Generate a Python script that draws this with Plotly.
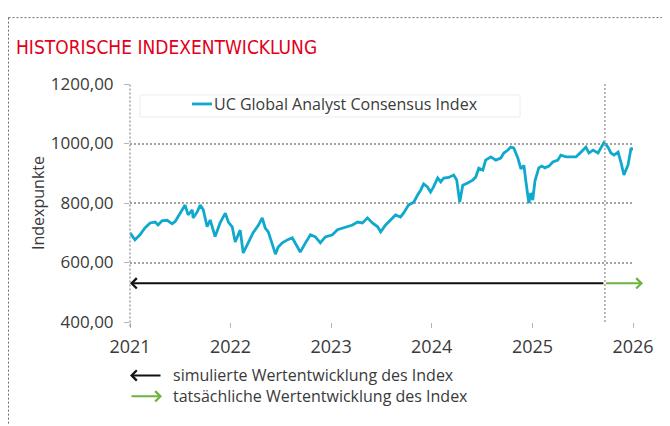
import plotly.graph_objects as go

# ---------------- data ----------------
dates = [
    "2021-01-01", "2021-01-19", "2021-02-06", "2021-02-25", "2021-03-15", "2021-04-02",
    "2021-04-13", "2021-04-27", "2021-05-16", "2021-06-03", "2021-06-14", "2021-07-02",
    "2021-07-20", "2021-07-31", "2021-08-15", "2021-08-18", "2021-09-02", "2021-09-13",
    "2021-09-24", "2021-10-08", "2021-10-19", "2021-11-06", "2021-11-24", "2021-12-13",
    "2021-12-24", "2022-01-07", "2022-01-18", "2022-02-05", "2022-02-16", "2022-03-06",
    "2022-03-24", "2022-04-12", "2022-04-26", "2022-05-07", "2022-05-18", "2022-06-02",
    "2022-06-13", "2022-06-23", "2022-07-08", "2022-07-26", "2022-08-13", "2022-09-01",
    "2022-09-11", "2022-09-30", "2022-10-18", "2022-11-05", "2022-11-23", "2022-12-11",
    "2023-01-06", "2023-01-24", "2023-02-11", "2023-03-01", "2023-03-20", "2023-04-07",
    "2023-04-25", "2023-05-13", "2023-05-31", "2023-06-19", "2023-06-30", "2023-07-18",
    "2023-08-05", "2023-08-23", "2023-09-10", "2023-09-21", "2023-10-09", "2023-10-28",
    "2023-11-11", "2023-11-22", "2023-12-03", "2023-12-17", "2023-12-28", "2024-01-08",
    "2024-01-23", "2024-02-03", "2024-02-14", "2024-03-03", "2024-03-21", "2024-04-01",
    "2024-04-12", "2024-04-23", "2024-05-11", "2024-05-29", "2024-06-09", "2024-06-20",
    "2024-07-05", "2024-07-15", "2024-08-03", "2024-08-21", "2024-09-08", "2024-09-19",
    "2024-10-04", "2024-10-14", "2024-10-25", "2024-11-09", "2024-11-20", "2024-12-01",
    "2024-12-08", "2024-12-19", "2024-12-26", "2025-01-02", "2025-01-10", "2025-01-24",
    "2025-02-04", "2025-02-15", "2025-03-02", "2025-03-16", "2025-04-03", "2025-04-14",
    "2025-05-03", "2025-05-21", "2025-06-08", "2025-06-26", "2025-07-14", "2025-07-25",
    "2025-08-09", "2025-08-27", "2025-09-07", "2025-09-17", "2025-10-02", "2025-10-13",
    "2025-10-24", "2025-11-08", "2025-11-19", "2025-11-29", "2025-12-14", "2025-12-25",
    "2026-01-01",
]
index_values = [
    700, 676, 693, 717, 733, 736,
    726, 740, 742, 730, 738, 766,
    793, 760, 777, 750, 770, 793,
    777, 720, 743, 687, 733, 766,
    736, 720, 669, 709, 632, 666,
    700, 725, 750, 716, 703, 660,
    628, 652, 666, 676, 683, 652,
    635, 666, 693, 686, 666, 686,
    693, 710, 716, 720, 726, 736,
    733, 750, 733, 720, 703, 726,
    743, 760, 753, 766, 793, 803,
    827, 843, 864, 854, 837, 854,
    884, 871, 884, 886, 894, 877,
    803, 860, 867, 877, 887, 917,
    911, 944, 955, 944, 951, 968,
    978, 988, 985, 951, 915, 926,
    874, 800, 834, 810, 874, 918,
    924, 918, 924, 938, 944, 961,
    955, 955, 955, 971, 988, 968,
    978, 968, 985, 1002, 988, 968,
    961, 971, 934, 894, 928, 985,
    978,
]

series_name = "UC Global Analyst Consensus Index"
title_text = "HISTORISCHE INDEXENTWICKLUNG"
y_title = "Indexpunkte"
y_ticks = [400, 600, 800, 1000, 1200]
y_tick_labels = ["400,00", "600,00", "800,00", "1000,00", "1200,00"]
x_ticks = ["2021-01-01", "2022-01-01", "2023-01-01", "2024-01-01", "2025-01-01", "2026-01-01"]
x_tick_labels = ["2021", "2022", "2023", "2024", "2025", "2026"]
switch_date = "2025-09-21"      # start of actual (non-simulated) performance
arrow_level = 530
legend_simulated = "simulierte Wertentwicklung des Index"
legend_actual = "tatsächliche Wertentwicklung des Index"

# ---------------- styling ----------------
FONT = "Open Sans, Noto Sans, sans-serif"
TXT = "#3a3a3a"
LINE_C = "#0fa9cd"
GRID_C = "#a3a3a3"
GREEN = "#6db33f"
RED = "#e2001a"

OFF = 8                      # page body margin in the browser
W, H = 670 - OFF, 426 - OFF
PL, PR, PT, PB = 130, 633, 84, 322.5     # plot area in page pixels
L, T = PL - OFF, PT - OFF
R = W - (PR - OFF)
B = H - (PB - OFF)
pw, ph = PR - PL, PB - PT


def px(xp):
    return (xp - PL) / pw


def py(yp):
    return (PB - yp) / ph


fig = go.Figure()
fig.add_trace(go.Scatter(
    x=dates, y=index_values, mode="lines", name=series_name,
    line=dict(color=LINE_C, width=2.8), showlegend=False,
))

shapes = [
    # outer dotted frame (top and left)
    dict(type="line", xref="paper", yref="paper", x0=px(8.5), x1=px(670), y0=py(17.5), y1=py(17.5),
         line=dict(color="#6a6a6a", width=1, dash="2px,2px")),
    dict(type="line", xref="paper", yref="paper", x0=px(8.5), x1=px(8.5), y0=py(17.5), y1=py(426),
         line=dict(color="#6a6a6a", width=1, dash="2px,2px")),
    # left axis dotted line
    dict(type="line", xref="paper", yref="paper", x0=0, x1=0, y0=py(327), y1=1,
         line=dict(color=GRID_C, width=1.5, dash="2px,2px")),
    # separator simulated / actual
    dict(type="line", xref="x", yref="y", x0=switch_date, x1=switch_date, y0=400, y1=1200,
         line=dict(color=GRID_C, width=1.5, dash="2px,2px")),
    # legend box
    dict(type="rect", xref="paper", yref="paper", x0=px(140), x1=px(520), y0=py(117), y1=py(95),
         line=dict(color="#ececec", width=1), fillcolor="rgba(255,255,255,0)", layer="below"),
    # legend sample line
    dict(type="line", xref="paper", yref="paper", x0=px(192), x1=px(212), y0=py(104), y1=py(104),
         line=dict(color=LINE_C, width=2.8)),
]

annotations = [
    # legend text
    dict(text=series_name, xref="paper", yref="paper", x=px(212), y=py(104.5),
         xanchor="left", yanchor="middle", showarrow=False,
         font=dict(family=FONT, size=16, color=TXT)),
    # black arrow: simulated (pointing back to start)
    dict(text="", xref="x", yref="y", x=dates[0], y=arrow_level,
         axref="x", ayref="y", ax=switch_date, ay=arrow_level,
         showarrow=True, arrowhead=4, arrowsize=1, arrowwidth=2, arrowcolor="#111111",
         standoff=0, startstandoff=0),
    # green arrow: actual (pointing forward)
    dict(text="", xref="paper", yref="y", x=px(643), y=arrow_level,
         axref="pixel", ayref="pixel", ax=-(643 - 604.5), ay=0,
         showarrow=True, arrowhead=4, arrowsize=1, arrowwidth=2, arrowcolor=GREEN,
         standoff=0, startstandoff=0),
    # bottom legend arrows
    dict(text="", xref="paper", yref="paper", x=px(130), y=py(376),
         axref="pixel", ayref="pixel", ax=32, ay=0,
         showarrow=True, arrowhead=4, arrowsize=1, arrowwidth=2, arrowcolor="#111111"),
    dict(text="", xref="paper", yref="paper", x=px(162), y=py(397),
         axref="pixel", ayref="pixel", ax=-32, ay=0,
         showarrow=True, arrowhead=4, arrowsize=1, arrowwidth=2, arrowcolor=GREEN),
    dict(text=legend_simulated, xref="paper", yref="paper", x=px(171), y=py(376),
         xanchor="left", yanchor="middle", showarrow=False,
         font=dict(family=FONT, size=16, color=TXT)),
    dict(text=legend_actual, xref="paper", yref="paper", x=px(171), y=py(397),
         xanchor="left", yanchor="middle", showarrow=False,
         font=dict(family=FONT, size=16, color=TXT)),
]

fig.update_layout(
    width=W, height=H,
    margin=dict(l=L, r=R, t=T, b=B, pad=0),
    paper_bgcolor="white", plot_bgcolor="white",
    title=dict(text=title_text, xref="container", yref="container",
               x=(16 - OFF) / W, xanchor="left", y=1 - (47.5 - OFF) / H, yanchor="middle",
               font=dict(family="Liberation Sans Narrow, DejaVu Sans Condensed, Arial Narrow, sans-serif",
                         size=19, color=RED)),
    shapes=shapes,
    annotations=annotations,
    showlegend=False,
    xaxis=dict(
        type="date", range=["2021-01-01", "2026-01-01"],
        tickvals=x_ticks, ticktext=x_tick_labels,
        showgrid=False, zeroline=False, showline=False,
        ticks="outside", ticklen=5, tickwidth=1, tickcolor="#b5b5b5",
        ticklabelstandoff=3,
        tickfont=dict(family=FONT, size=18, color=TXT),
    ),
    yaxis=dict(
        range=[400, 1200],
        tickvals=y_ticks, ticktext=y_tick_labels,
        showgrid=True, gridcolor=GRID_C, gridwidth=1.5, griddash="2px,2px",
        zeroline=False, showline=False,
        ticks="outside", ticklen=5, tickwidth=1, tickcolor="#b5b5b5",
        ticklabelstandoff=7,
        tickfont=dict(family=FONT, size=17, color=TXT),
        title=dict(text=y_title, standoff=2, font=dict(family=FONT, size=16, color=TXT)),
    ),
)

fig.write_html("out.html")
